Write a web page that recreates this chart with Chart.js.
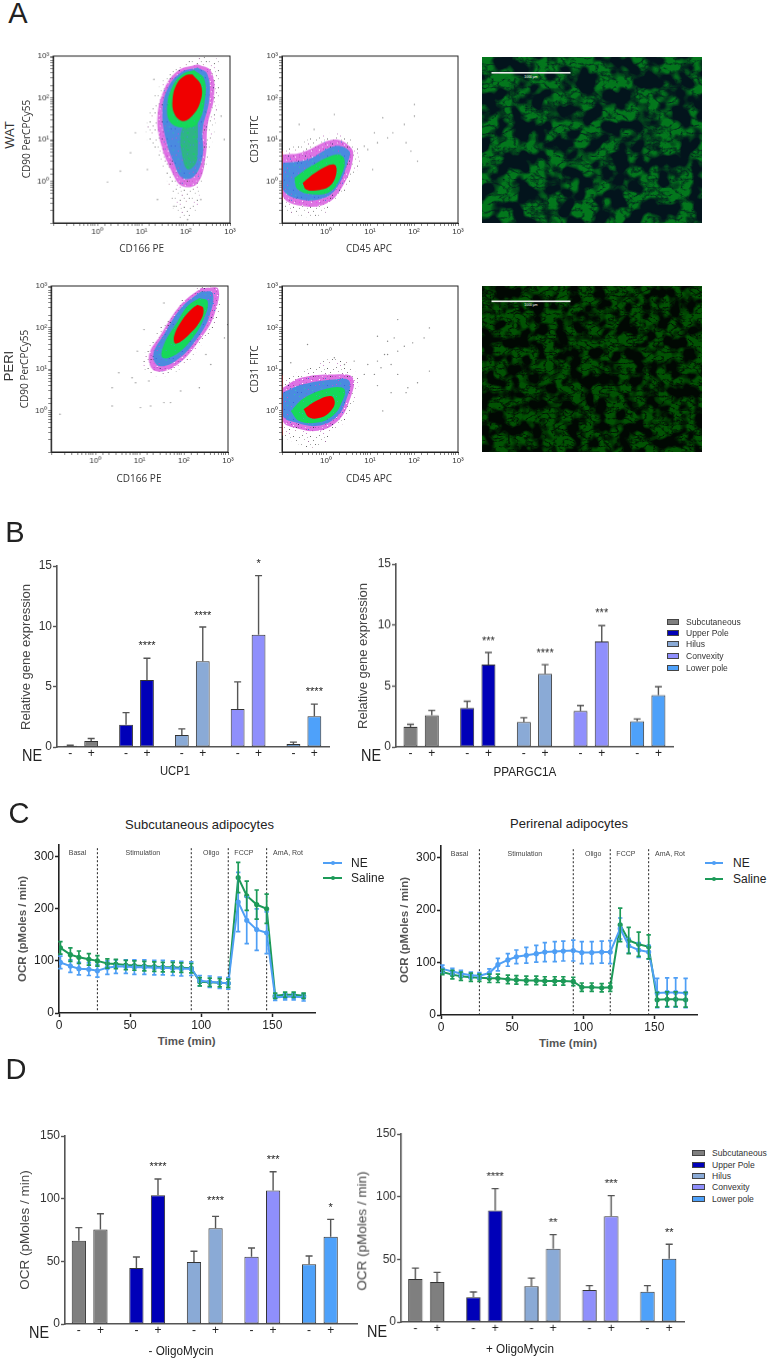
<!DOCTYPE html>
<html>
<head>
<meta charset="utf-8">
<title>Adipocyte figure</title>
<script src="https://cdn.jsdelivr.net/npm/chart.js@4/dist/chart.umd.min.js"></script>
<style>
  html, body { margin: 0; background: #fff; }
  #page { position: relative; width: 767px; height: 1358px; overflow: hidden; }
  #page canvas { position: absolute; }
  .txt { position: absolute; white-space: nowrap; font-family: "Liberation Sans", sans-serif; color: #222; line-height: 1; }
  .photo { position: absolute; width: 220px; height: 166px; }
</style>
</head>
<body>
<div id="page">
  <svg class="photo" style="left:482px;top:57px" viewBox="0 0 220 166">
    <filter id="cellsWat" x="0" y="0" width="1" height="1" color-interpolation-filters="sRGB">
      <feTurbulence type="fractalNoise" baseFrequency="0.062" numOctaves="2" seed="11" result="n1"/>
      <feColorMatrix in="n1" type="matrix" values="0 0 0 0 0  6 0 0 0 -2.5  0 0 0 0 0  0 0 0 0 1" result="mask"/>
      <feTurbulence type="turbulence" baseFrequency="0.09 0.13" numOctaves="3" seed="5" result="n2"/>
      <feColorMatrix in="n2" type="matrix" values="2.4 0 0 0 0.22  2.4 0 0 0 0.22  2.4 0 0 0 0.22  0 0 0 0 1" result="tex"/>
      <feComposite in="mask" in2="tex" operator="arithmetic" k1="0.42" k2="0" k3="0" k4="0" result="cells"/>
      <feGaussianBlur in="cells" stdDeviation="0.6" result="soft"/>
      <feFlood flood-color="#03141c" result="bg"/>
      <feBlend in="soft" in2="bg" mode="screen"/>
    </filter>
    <rect width="220" height="166" filter="url(#cellsWat)"/>
    <rect x="9.5" y="15" width="79" height="1.6" fill="#eee"/>
    <text x="49" y="20.5" font-size="3.4" fill="#fff" text-anchor="middle" font-family="Liberation Sans">1000 µm</text>
  </svg>
  <svg class="photo" style="left:482px;top:286px" viewBox="0 0 220 166">
    <filter id="cellsPeri" x="0" y="0" width="1" height="1" color-interpolation-filters="sRGB">
      <feTurbulence type="fractalNoise" baseFrequency="0.08" numOctaves="2" seed="23" result="n1"/>
      <feColorMatrix in="n1" type="matrix" values="0 0 0 0 0  5 0 0 0 -1.9  0 0 0 0 0  0 0 0 0 1" result="mask"/>
      <feTurbulence type="turbulence" baseFrequency="0.11 0.18" numOctaves="3" seed="8" result="n2"/>
      <feColorMatrix in="n2" type="matrix" values="3 0 0 0 0.05  3 0 0 0 0.05  3 0 0 0 0.05  0 0 0 0 1" result="tex"/>
      <feComposite in="mask" in2="tex" operator="arithmetic" k1="0.3" k2="0" k3="0" k4="0" result="cells"/>
      <feGaussianBlur in="cells" stdDeviation="0.5" result="soft"/>
      <feFlood flood-color="#010803" result="bg"/>
      <feBlend in="soft" in2="bg" mode="screen"/>
    </filter>
    <rect width="220" height="166" filter="url(#cellsPeri)"/>
    <rect x="9.5" y="14.5" width="79" height="1.6" fill="#eee"/>
    <text x="49" y="20" font-size="3.4" fill="#fff" text-anchor="middle" font-family="Liberation Sans">1000 µm</text>
  </svg>
</div>
<script>
// panel A: density outlines, as [log10 x, log10 y]
const watCd90Sparse = [[2.27,3.0],[2.72,2.92],[2.76,2.28],[2.64,1.16],[2.49,.52],[2.34,-.12],[2.19,-.76],[1.81,-.84],[1.66,-.28],[1.43,.52],[1.13,1.0],[1.2,1.72],[1.51,2.44],[1.89,2.76]];
const watCd90Magenta = [[2.27,2.8],[2.57,2.64],[2.64,2.04],[2.49,1.32],[2.45,.6],[2.27,-.04],[1.92,-.12],[1.66,.28],[1.43,.92],[1.36,1.56],[1.51,2.2],[1.81,2.64]];
const watCd90Blue = [[2.27,2.72],[2.49,2.56],[2.53,1.96],[2.38,1.24],[2.38,.6],[2.19,.12],[1.92,.08],[1.73,.44],[1.55,1.0],[1.47,1.64],[1.58,2.2],[1.89,2.6]];
const watCd90Green = [[2.19,2.66],[2.42,2.44],[2.42,1.88],[2.27,1.4],[2.05,1.28],[1.66,1.4],[1.58,1.8],[1.7,2.28],[1.92,2.56]];
const watCd90Tail = [[2.27,1.4],[2.27,.84],[2.23,.44],[2.04,.28],[1.92,.6],[1.89,1.16],[2.05,1.4]];
const watCd90Red = [[2.15,2.56],[2.35,2.28],[2.32,1.88],[2.12,1.54],[1.92,1.44],[1.74,1.62],[1.7,1.96],[1.8,2.34],[2.0,2.54]];
const watCd90Stray = [[.52,.24],[.23,-.02],[.86,1.16],[.75,.68],[1.13,.28],[1.36,-.44],[1.28,2.44],[2.8,1.56],[2.87,1.0],[1.73,-.6],[2.04,-.92],[2.34,-.44]];

const watCd31Sparse = [[-1,.76],[.19,1.16],[.64,.92],[.76,.44],[.34,-.36],[-.19,-.84],[-.8,-.76],[-1,-.6]];
const watCd31Magenta = [[-.98,.64],[-.57,.68],[.19,1.0],[.57,.8],[.61,.52],[.42,-.04],[.04,-.52],[-.49,-.6],[-.98,-.36]];
const watCd31Blue = [[-.98,.44],[-.42,.52],[.19,.84],[.53,.72],[.49,.44],[.27,-.12],[-.04,-.4],[-.57,-.44],[-.98,-.2]];
const watCd31Green = [[-.72,.08],[-.34,.36],[.23,.64],[.42,.52],[.34,.12],[.11,-.24],[-.27,-.32],[-.64,-.2]];
const watCd31Red = [[-.53,-.04],[-.19,.24],[.19,.4],[.23,.16],[.08,-.12],[-.23,-.22],[-.45,-.2]];
const watCd31Stray = [[1.17,.92],[1.4,1.04],[.95,.76],[1.78,1.36],[2.01,1.84],[2.01,1.56],[2.08,.48],[.19,1.6],[-.27,1.24],[-.61,1.36],[1.29,1.52],[1.82,.92],[1.1,1.16],[1.52,1.16],[.87,.84],[1.06,.28],[1.93,.72]];

const periCd90Sparse = [[2.69,2.99],[2.84,2.87],[2.77,2.23],[2.46,1.67],[1.86,.95],[1.33,.83],[1.06,1.11],[1.33,1.75],[1.93,2.63],[2.39,2.99]];
const periCd90Magenta = [[2.39,2.95],[2.77,2.95],[2.69,2.31],[2.39,1.75],[1.86,1.11],[1.36,.95],[1.21,1.31],[1.48,1.83],[1.93,2.55]];
const periCd90Blue = [[2.39,2.87],[2.65,2.83],[2.58,2.27],[2.31,1.75],[1.86,1.23],[1.44,1.07],[1.31,1.35],[1.55,1.83],[1.97,2.51]];
const periCd90Green = [[2.35,2.71],[2.54,2.63],[2.46,2.23],[2.2,1.75],[1.82,1.35],[1.52,1.27],[1.55,1.59],[1.86,2.15],[2.08,2.51]];
const periCd90Red = [[2.31,2.55],[2.44,2.47],[2.39,2.19],[2.12,1.83],[1.82,1.61],[1.78,1.79],[1.97,2.19],[2.16,2.43]];
const periCd90Stray = [[-.8,-.09],[.38,.11],[1.02,.07],[1.25,.11],[1.55,.19],[1.7,.19],[.38,.55],[.53,.91],[.83,.79],[.91,.67],[1.93,.47],[2.35,.55],[2.61,1.11],[2.5,1.35],[2.92,1.75],[2.99,2.07],[1.55,2.59],[1.1,1.95],[.95,1.43],[1.21,.71]];

const periCd31Sparse = [[-.98,.79],[-.34,1.03],[.27,1.27],[.72,.79],[.57,.07],[.19,-.57],[-.27,-.89],[-.8,-.73],[-.98,-.57]];
const periCd31Magenta = [[-.98,.55],[-.57,.79],[.19,.87],[.61,.79],[.53,.23],[.27,-.25],[-.19,-.49],[-.72,-.41],[-.98,-.25]];
const periCd31Blue = [[-.98,.43],[-.53,.63],[.19,.75],[.53,.71],[.45,.23],[.23,-.17],[-.19,-.37],[-.68,-.29],[-.98,-.13]];
const periCd31Green = [[-.8,-.01],[-.49,.31],[.11,.55],[.42,.51],[.34,.15],[.15,-.13],[-.19,-.29],[-.61,-.25]];
const periCd31Red = [[-.51,.03],[-.23,.23],[.11,.35],[.2,.19],[.11,-.01],[-.11,-.17],[-.38,-.17]];
const periCd31Stray = [[1.63,2.19],[2.35,1.99],[1.17,1.79],[1.4,1.67],[1.55,1.75],[2.23,1.75],[1.97,1.63],[1.63,1.43],[1.33,1.35],[1.17,1.19],[.95,1.11],[1.48,1.11],[.87,.87],[1.1,.87],[1.63,.87],[2.08,.67],[2.35,.95],[1.86,.55],[1.48,.43],[1.17,.6],[1.82,.43],[1.29,-.01],[-.42,1.59],[.19,1.27],[.64,1.19],[-.8,1.15],[.42,1.11],[1.4,1.35],[1.78,1.55],[1.25,1.03]];

// panels B and D
const groups = ["Subcutaneous", "Upper Pole", "Hilus", "Convexity", "Lower pole"];

const ucp1Minus = [0.1, 1.85, 1.0, 3.15, 0.25];
const ucp1Plus = [0.5, 5.55, 7.1, 9.3, 2.55];
const ucp1MinusTop = [0.15, 2.85, 1.5, 5.4, 0.4];
const ucp1PlusTop = [0.7, 7.35, 9.95, 14.2, 3.55];
const ucp1Stars = ["", "****", "****", "*", "****"];
const ucp1StarLevel = [null, 8.5, 11.05, 15.3, 4.7];

const pgcMinus = [1.65, 3.2, 2.05, 2.95, 2.1];
const pgcPlus = [2.6, 6.75, 6.0, 8.65, 4.25];
const pgcMinusTop = [1.85, 3.75, 2.4, 3.4, 2.3];
const pgcPlusTop = [3.0, 7.75, 6.75, 9.95, 4.95];
const pgcStars = ["", "***", "****", "***", ""];
const pgcStarLevel = [null, 8.85, 7.8, 11.1, null];

const noOligoMinus = [66.5, 44.7, 49.5, 53.7, 47.6];
const noOligoPlus = [75.3, 102.7, 76.3, 106.6, 69.7];
const noOligoMinusTop = [76.9, 53.5, 58, 60.6, 54.3];
const noOligoPlusTop = [88, 115.7, 85.9, 121.5, 83.5];
const noOligoStars = ["", "****", "****", "***", "*"];
const noOligoStarLevel = [null, 126.6, 99.5, 132.4, 94];

const oligoMinus = [34.3, 19.7, 28.5, 25.5, 24.2];
const oligoPlus = [32, 89, 58.5, 84.3, 50.5];
const oligoMinusTop = [43, 23.9, 35, 29, 29];
const oligoPlusTop = [39.6, 106.4, 69.7, 100.8, 62];
const oligoStars = ["", "****", "**", "***", "**"];
const oligoStarLevel = [null, 117.5, 80.3, 111.4, 72.6];

// panel C
const timePoints = [1, 8, 14, 21, 27, 34, 40, 47, 53, 60, 67, 73, 80, 86, 93, 99, 106, 113, 119, 126, 132, 139, 146, 152, 159, 165, 172];
const phaseEdges = [27, 93, 119, 146];
const phaseNames = ["Basal", "Stimulation", "Oligo", "FCCP", "AmA, Rot"];
const phaseCentres = [13, 59, 107, 130, 161];

const subNe = [97, 90, 85, 84, 81, 87, 89, 89, 88, 88, 87, 87, 86, 85, 85, 62, 60, 58, 57, 213, 178, 160, 154, 30, 31, 31, 30];
const subNeErr = [12, 12, 12, 12, 12, 13, 13, 13, 14, 14, 14, 14, 14, 14, 13, 10, 11, 11, 11, 57, 45, 40, 40, 6, 6, 6, 7];
const subSaline = [125, 112, 107, 103, 100, 95, 94, 92, 91, 90, 89, 88, 88, 87, 86, 60, 59, 58, 57, 260, 225, 208, 200, 33, 35, 35, 33];
const subSalineErr = [12, 13, 12, 11, 10, 9, 9, 9, 9, 9, 9, 9, 9, 9, 9, 8, 8, 8, 8, 29, 28, 28, 28, 5, 5, 5, 5];

const periNe = [88, 83, 79, 76, 75, 80, 96, 105, 111, 114, 117, 120, 121, 122, 123, 119, 119, 120, 120, 165, 132, 124, 120, 42, 43, 43, 42];
const periNeErr = [7, 6, 6, 6, 6, 8, 12, 12, 13, 15, 16, 18, 19, 19, 20, 21, 21, 21, 22, 20, 14, 14, 13, 28, 28, 28, 28];
const periSaline = [82, 77, 74, 72, 71, 70, 70, 68, 67, 66, 66, 65, 65, 65, 64, 53, 53, 52, 53, 172, 142, 135, 130, 29, 30, 30, 29];
const periSalineErr = [5, 8, 8, 8, 7, 8, 8, 8, 8, 8, 8, 8, 8, 8, 8, 8, 8, 8, 8, 32, 25, 23, 23, 14, 14, 14, 14];

const groupColors = ["#7f7f7f", "#0000b8", "#8aaad6", "#8f8ffc", "#4ea1fa"];
const neBlue = "#4f9ff5";
const salineGreen = "#1c9a58";
const axisGrey = "#555";
const bodyFont = "Liberation Sans";

Chart.defaults.animation = false;
Chart.defaults.events = [];
Chart.defaults.font.family = bodyFont;
Chart.defaults.plugins.legend.display = false;
Chart.defaults.plugins.tooltip.enabled = false;

const page = document.getElementById("page");

function label(text, x, y, size, extra) {
  const el = document.createElement("div");
  const o = extra || {};
  el.className = "txt";
  el.textContent = text;
  el.style.left = x + "px";
  el.style.top = y + "px";
  el.style.fontSize = size + "px";
  el.style.transform = "translate(-50%,-50%) " + (o.rotate ? "rotate(-90deg) " : "") + (o.squeeze ? "scaleX(" + o.squeeze + ")" : "");
  if (o.weight) el.style.fontWeight = o.weight;
  if (o.color) el.style.color = o.color;
  if (o.family) el.style.fontFamily = o.family;
  page.appendChild(el);
}

// canvas sized around a wanted plot box, scales forced to the margins
function plotChart(box, margins, cfg, soft) {
  const [mL, mT, mR, mB] = margins;
  const canvas = document.createElement("canvas");
  const w = box.r - box.l + mL + mR;
  const h = box.b - box.t + mT + mB;
  canvas.width = w;
  canvas.height = h;
  canvas.style.left = box.l - mL + "px";
  canvas.style.top = box.t - mT + "px";
  canvas.style.width = w + "px";
  canvas.style.height = h + "px";
  if (soft) canvas.style.filter = "blur(" + soft + "px)";
  page.appendChild(canvas);
  cfg.options.responsive = false;
  cfg.options.layout = { padding: { top: mT, right: mR, left: 0, bottom: 0 } };
  cfg.options.scales.x.afterFit = (s) => { s.height = mB; };
  cfg.options.scales.y.afterFit = (s) => { s.width = mL; };
  return new Chart(canvas, cfg);
}

// speckle tiles so the density bands look like dots rather than flat colour
function speckle(base, dots) {
  const tile = document.createElement("canvas");
  tile.width = 17;
  tile.height = 17;
  const c = tile.getContext("2d");
  if (base) { c.fillStyle = base; c.fillRect(0, 0, 17, 17); }
  dots.forEach(([x, y, col]) => { c.fillStyle = col; c.fillRect(x, y, 1, 1); });
  return c.createPattern(tile, "repeat");
}
const fillSparse = speckle(null, [[1,2,"#8a8a8a"],[5,0,"#c98ac9"],[9,3,"#666"],[3,6,"#b8b8b8"],[7,8,"#a070a0"],[12,7,"#888"],[0,11,"#aaa"],[5,13,"#666"],[11,14,"#b9a"],[15,4,"#999"],[6,4,"#bbb"],[14,11,"#777"],[2,15,"#c9c"],[9,11,"#aaa"]]);
const fillMagenta = speckle("rgba(206,50,214,.68)", [[1,1,"#fff"],[4,3,"#33336e"],[8,1,"#e4e"],[11,4,"#fff"],[2,7,"#f0e0f0"],[6,6,"#3c7ce0"],[9,9,"#fff"],[12,11,"#444"],[4,11,"#f0c0f0"],[7,13,"#3c7ce0"],[15,2,"#d040e0"],[14,8,"#33336e"],[1,14,"#fff"],[15,15,"#e4e"],[10,15,"#fff"]]);
const fillBlue = speckle("#4a8be0", [[1,2,"#c24fd0"],[5,1,"#2fc0b0"],[9,3,"#3b5fd8"],[3,6,"#2fc0b0"],[7,7,"#a95bd8"],[11,8,"#3ab8c8"],[0,10,"#3b5fd8"],[5,11,"#6a6ae0"],[10,12,"#2fc0b0"],[14,3,"#a95bd8"],[15,14,"#2fc0b0"],[13,10,"#3b5fd8"],[3,15,"#c24fd0"]]);
const fillGreen = speckle("#16d85a", [[2,2,"#2fb8a0"],[6,5,"#10e040"],[10,2,"#30b0b0"],[4,9,"#10e040"],[8,10,"#2fb8a0"],[12,7,"#18c870"],[15,13,"#2fb8a0"],[1,14,"#30b0b0"]]);
const fillMottle = speckle("#2fb488", [[1,1,"#16d85a"],[2,1,"#16d85a"],[5,3,"#3f8fe0"],[8,2,"#16d85a"],[12,1,"#3f8fe0"],[3,5,"#16d85a"],[4,6,"#16d85a"],[9,6,"#3f8fe0"],[13,5,"#16d85a"],[14,6,"#16d85a"],[1,9,"#3f8fe0"],[6,9,"#16d85a"],[7,10,"#16d85a"],[11,10,"#16d85a"],[15,9,"#3f8fe0"],[3,13,"#16d85a"],[8,13,"#3f8fe0"],[12,14,"#16d85a"],[13,14,"#16d85a"]]);
const fillRed = "#f00000";

const toPoints = (list) => list.map(([a, b]) => ({ x: 10 ** a, y: 10 ** b }));
const closed = (list) => toPoints(list.concat([list[0]]));

function band(list, fillStyle) {
  return { data: closed(list), showLine: true, fill: "shape", backgroundColor: fillStyle, borderWidth: 0, pointRadius: 0, tension: 0.4 };
}

const decadeLabel = { 0: "10\u2070", 1: "10\u00b9", 2: "10\u00b2", 3: "10\u00b3" };
function logAxis() {
  return {
    type: "logarithmic",
    min: 0.1,
    max: 1000,
    border: { color: "#222", width: 1 },
    grid: { drawOnChartArea: false, tickLength: 3, tickColor: "#333", tickWidth: 0.6 },
    ticks: {
      autoSkip: false,
      maxRotation: 0,
      minRotation: 0,
      padding: 1,
      color: "#333",
      font: { size: 8 },
      callback: (v) => {
        const e = Math.round(Math.log10(v));
        return Math.abs(Math.log10(v) - e) < 1e-6 ? decadeLabel[e] || "" : "";
      },
    },
  };
}

const frame = {
  id: "frame",
  afterDraw(chart) {
    const a = chart.chartArea;
    chart.ctx.strokeStyle = "#222";
    chart.ctx.lineWidth = 1;
    chart.ctx.strokeRect(a.left, a.top, a.right - a.left, a.bottom - a.top);
  },
};

function flowPlot(box, sets, edge) {
  const datasets = [band(sets.red, fillRed), band(sets.green, fillGreen)];
  if (sets.tail) datasets.push(band(sets.tail, fillMottle));
  datasets.push(
    band(sets.blue, fillBlue),
    band(sets.magenta, fillMagenta),
    band(sets.sparse, fillSparse),
    { data: toPoints(sets.stray), pointRadius: 0.7, backgroundColor: "#8a8a8a", borderWidth: 0 }
  );
  if (edge) datasets.unshift({ data: toPoints(edge), showLine: true, borderColor: "#e02020", borderWidth: 1.5, pointRadius: 0 });
  plotChart(box, [32, 6, 8, 20], {
    type: "scatter",
    data: { datasets },
    options: { scales: { x: logAxis(), y: logAxis() } },
    plugins: [frame],
  }, 0.35);
}

// error bars: dataset.errHigh / errLow hold the whisker ends in data units
const whiskers = {
  id: "whiskers",
  afterDatasetsDraw(chart) {
    const ctx = chart.ctx;
    const y = chart.scales.y;
    chart.data.datasets.forEach((ds, d) => {
      if (!ds.errHigh) return;
      const meta = chart.getDatasetMeta(d);
      ctx.strokeStyle = ds.errColor;
      ctx.lineWidth = ds.errWidth;
      meta.data.forEach((el, i) => {
        const hi = y.getPixelForValue(ds.errHigh[i]);
        const lo = ds.errLow ? y.getPixelForValue(ds.errLow[i]) : el.y;
        ctx.beginPath();
        ctx.moveTo(el.x, lo);
        ctx.lineTo(el.x, hi);
        ctx.moveTo(el.x - ds.capHalf, hi);
        ctx.lineTo(el.x + ds.capHalf, hi);
        if (ds.errLow) {
          ctx.moveTo(el.x - ds.capHalf, lo);
          ctx.lineTo(el.x + ds.capHalf, lo);
        }
        ctx.stroke();
      });
    });
  },
};

// the -/+ under each bar and the significance stars above the + bars
const barMarks = {
  id: "barMarks",
  afterDraw(chart) {
    const ctx = chart.ctx;
    const y = chart.scales.y;
    ctx.textAlign = "center";
    ctx.textBaseline = "middle";
    ctx.fillStyle = "#222";
    chart.data.datasets.forEach((ds, d) => {
      const meta = chart.getDatasetMeta(d);
      meta.data.forEach((el, i) => {
        ctx.font = "12px " + bodyFont;
        ctx.fillText(ds.label, el.x, y.bottom + 7);
        if (ds.stars && ds.stars[i]) {
          ctx.font = "11px " + bodyFont;
          ctx.fillText(ds.stars[i], el.x, y.getPixelForValue(ds.starLevel[i]) + 2);
        }
      });
    });
  },
};

function barPlot(box, xRange, yMax, yStep, minus, plus, minusTop, plusTop, stars, starLevel) {
  const asXY = (vals) => vals.map((v, i) => ({ x: i, y: v }));
  const common = {
    backgroundColor: groupColors,
    borderColor: "#333",
    borderWidth: 1,
    borderSkipped: false,
    categoryPercentage: 0.75,
    barPercentage: 0.66,
    errColor: axisGrey,
    errWidth: 1.4,
    capHalf: 3.5,
  };
  plotChart(box, [30, 14, 8, 18], {
    type: "bar",
    data: {
      datasets: [
        { ...common, label: "-", data: asXY(minus), errHigh: minusTop },
        { ...common, label: "+", data: asXY(plus), errHigh: plusTop, stars: stars, starLevel: starLevel },
      ],
    },
    options: {
      scales: {
        x: {
          type: "linear",
          min: xRange[0],
          max: xRange[1],
          offset: false,
          grid: { display: false, offset: false },
          ticks: { display: false },
          border: { color: axisGrey, width: 1.6 },
        },
        y: {
          min: 0,
          max: yMax,
          grid: { drawOnChartArea: false, tickLength: 4, tickColor: axisGrey, tickWidth: 1.4 },
          border: { color: axisGrey, width: 1.6 },
          ticks: { stepSize: yStep, padding: 1, color: "#333", font: { size: 12 } },
        },
      },
    },
    plugins: [whiskers, barMarks],
  });
}

// dotted phase separators and phase names
const phases = {
  id: "phases",
  afterDatasetsDraw(chart) {
    const { ctx, scales } = chart;
    ctx.save();
    ctx.strokeStyle = "#222";
    ctx.lineWidth = 1;
    ctx.setLineDash([2, 2]);
    phaseEdges.forEach((t) => {
      const px = scales.x.getPixelForValue(t);
      ctx.beginPath();
      ctx.moveTo(px, scales.y.top + 3);
      ctx.lineTo(px, scales.y.bottom);
      ctx.stroke();
    });
    ctx.restore();
    ctx.fillStyle = "#444";
    ctx.font = "7px " + bodyFont;
    ctx.textAlign = "center";
    ctx.textBaseline = "middle";
    phaseNames.forEach((name, i) => {
      ctx.fillText(name, scales.x.getPixelForValue(phaseCentres[i]), scales.y.getPixelForValue(307));
    });
  },
};

function ocrPlot(box, ne, neErr, saline, salineErr) {
  const series = (vals, err, color) => ({
    data: vals.map((v, i) => ({ x: timePoints[i], y: v })),
    errHigh: vals.map((v, i) => v + err[i]),
    errLow: vals.map((v, i) => v - err[i]),
    errColor: color,
    errWidth: 1.7,
    capHalf: 2.2,
    borderColor: color,
    backgroundColor: color,
    borderWidth: 2,
    pointRadius: 1.6,
  });
  plotChart(box, [30, 6, 8, 22], {
    type: "line",
    data: { datasets: [series(ne, neErr, neBlue), series(saline, salineErr, salineGreen)] },
    options: {
      scales: {
        x: {
          type: "linear",
          min: 0,
          max: 180,
          grid: { drawOnChartArea: false, tickLength: 4, tickColor: "#222", tickWidth: 1.5 },
          border: { color: "#222", width: 1.6 },
          ticks: { stepSize: 50, includeBounds: false, padding: 1, color: "#222", font: { size: 12 }, maxRotation: 0 },
        },
        y: {
          min: 0,
          max: 322,
          grid: { drawOnChartArea: false, tickLength: 4, tickColor: "#222", tickWidth: 1.5 },
          border: { color: "#222", width: 1.6 },
          ticks: { stepSize: 100, includeBounds: false, padding: 1, color: "#222", font: { size: 12 } },
        },
      },
    },
    plugins: [phases, whiskers],
  });
}

// html legends, the chart's own legend can't sit where the figure has it
function barLegend(swatchX, textX, ys, size) {
  groups.forEach((name, i) => {
    const s = document.createElement("div");
    s.style.cssText = "position:absolute;box-sizing:border-box;left:" + swatchX + "px;top:" + (ys[i] - 3) + "px;width:12.5px;height:6px;border:1px solid #444;background:" + groupColors[i];
    page.appendChild(s);
    const e = document.createElement("div");
    e.className = "txt";
    e.textContent = name;
    e.style.cssText += "left:" + textX + "px;top:" + ys[i] + "px;font-size:" + size + "px;transform:translateY(-50%) scaleX(.9);transform-origin:left center;color:#333";
    page.appendChild(e);
  });
}

function lineLegend(x0, x1, textX, y, color, name) {
  const l = document.createElement("div");
  l.style.cssText = "position:absolute;left:" + x0 + "px;top:" + (y - 1) + "px;width:" + (x1 - x0) + "px;height:2px;background:" + color;
  page.appendChild(l);
  const d = document.createElement("div");
  d.style.cssText = "position:absolute;left:" + ((x0 + x1) / 2 - 2) + "px;top:" + (y - 2) + "px;width:4px;height:4px;border-radius:2px;background:" + color;
  page.appendChild(d);
  const e = document.createElement("div");
  e.className = "txt";
  e.textContent = name;
  e.style.cssText += "left:" + textX + "px;top:" + y + "px;font-size:12px;transform:translateY(-50%)";
  page.appendChild(e);
}

// A
flowPlot({ l: 53.3, t: 56, r: 230, b: 222.7 }, { sparse: watCd90Sparse, magenta: watCd90Magenta, blue: watCd90Blue, tail: watCd90Tail, green: watCd90Green, red: watCd90Red, stray: watCd90Stray });
flowPlot({ l: 281.7, t: 56, r: 457.7, b: 222.7 }, { sparse: watCd31Sparse, magenta: watCd31Magenta, blue: watCd31Blue, green: watCd31Green, red: watCd31Red, stray: watCd31Stray }, [[-1, 0.72], [-1, -0.45]]);
flowPlot({ l: 51, t: 286, r: 227.7, b: 452.3 }, { sparse: periCd90Sparse, magenta: periCd90Magenta, blue: periCd90Blue, green: periCd90Green, red: periCd90Red, stray: periCd90Stray });
flowPlot({ l: 281.7, t: 286, r: 457.7, b: 452.3 }, { sparse: periCd31Sparse, magenta: periCd31Magenta, blue: periCd31Blue, green: periCd31Green, red: periCd31Red, stray: periCd31Stray }, [[-1, 0.85], [-1, -0.6]]);

const flowFont = { family: "Open Sans", color: "#333" };
label("A", 18, 13, 29);
label("WAT", 9, 135, 13, { rotate: true, color: "#333" });
label("CD90 PerCPCy55", 26, 139, 10, { rotate: true, ...flowFont });
label("CD166 PE", 141.7, 248, 10, flowFont);
label("CD31 FITC", 254, 139, 10, { rotate: true, ...flowFont });
label("CD45 APC", 369, 248, 10, flowFont);
label("PERI", 8, 366, 13, { rotate: true, color: "#333" });
label("CD90 PerCPCy55", 24, 369, 10, { rotate: true, ...flowFont });
label("CD166 PE", 139, 478, 10, flowFont);
label("CD31 FITC", 254, 369, 10, { rotate: true, ...flowFont });
label("CD45 APC", 369, 478, 10, flowFont);

// B
barPlot({ l: 57.3, t: 565.7, r: 329.4, b: 747.5 }, [-0.425, 4.45], 15, 5, ucp1Minus, ucp1Plus, ucp1MinusTop, ucp1PlusTop, ucp1Stars, ucp1StarLevel);
barPlot({ l: 395.5, t: 564.3, r: 673, b: 746.7 }, [-0.444, 4.445], 15, 5, pgcMinus, pgcPlus, pgcMinusTop, pgcPlusTop, pgcStars, pgcStarLevel);
label("B", 15, 532, 29);
label("Relative gene expression", 24.5, 657, 13, { rotate: true, color: "#444" });
label("Relative gene expression", 362, 656, 13, { rotate: true, color: "#444" });
label("NE", 32, 755, 17, { squeeze: 0.85 });
label("NE", 371, 755, 17, { squeeze: 0.85 });
label("UCP1", 175, 771, 12.5, { squeeze: 0.9 });
label("PPARGC1A", 525, 771, 13, { squeeze: 0.9 });
barLegend(666.7, 686, [621.7, 633.3, 644, 656, 668], 9.5);

// C
ocrPlot({ l: 59, t: 842.7, r: 315, b: 1013.3 }, subNe, subNeErr, subSaline, subSalineErr);
ocrPlot({ l: 440.7, t: 844, r: 696.7, b: 1015 }, periNe, periNeErr, periSaline, periSalineErr);
label("C", 19, 813, 29);
label("Subcutaneous adipocytes", 199.5, 824, 13);
label("Perirenal adipocytes", 569, 823, 13);
label("OCR (pMoles / min)", 23, 929, 11.5, { rotate: true, weight: "bold", color: "#555" });
label("OCR (pMoles / min)", 405, 930, 11.5, { rotate: true, weight: "bold", color: "#555" });
label("Time (min)", 186.7, 1042, 11.5, { weight: "bold", color: "#555" });
label("Time (min)", 568, 1044, 11.5, { weight: "bold", color: "#555" });
lineLegend(323, 342, 351, 862.7, neBlue, "NE");
lineLegend(323, 342, 351, 878, salineGreen, "Saline");
lineLegend(705, 723, 733, 863, neBlue, "NE");
lineLegend(705, 723, 733, 879, salineGreen, "Saline");

// D
barPlot({ l: 64.6, t: 1135.7, r: 357.3, b: 1323.7 }, [-0.428, 4.645], 150, 50, noOligoMinus, noOligoPlus, noOligoMinusTop, noOligoPlusTop, noOligoStars, noOligoStarLevel);
barPlot({ l: 401.4, t: 1134.3, r: 684.3, b: 1322.3 }, [-0.434, 4.443], 150, 50, oligoMinus, oligoPlus, oligoMinusTop, oligoPlusTop, oligoStars, oligoStarLevel);
label("D", 16, 1069, 29);
label("OCR (pMoles / min)", 24.5, 1230, 13.5, { rotate: true, color: "#444" });
label("OCR (pMoles / min)", 362, 1231, 13.5, { rotate: true, color: "#444" });
label("NE", 39, 1331.5, 17, { squeeze: 0.85 });
label("NE", 377, 1331, 17, { squeeze: 0.85 });
label("- OligoMycin", 181, 1350, 13, { squeeze: 0.9 });
label("+ OligoMycin", 520, 1348, 13, { squeeze: 0.9 });
barLegend(692, 711.7, [1153.3, 1165, 1175.7, 1187.3, 1199.3], 9.5);
</script>
</body>
</html>
